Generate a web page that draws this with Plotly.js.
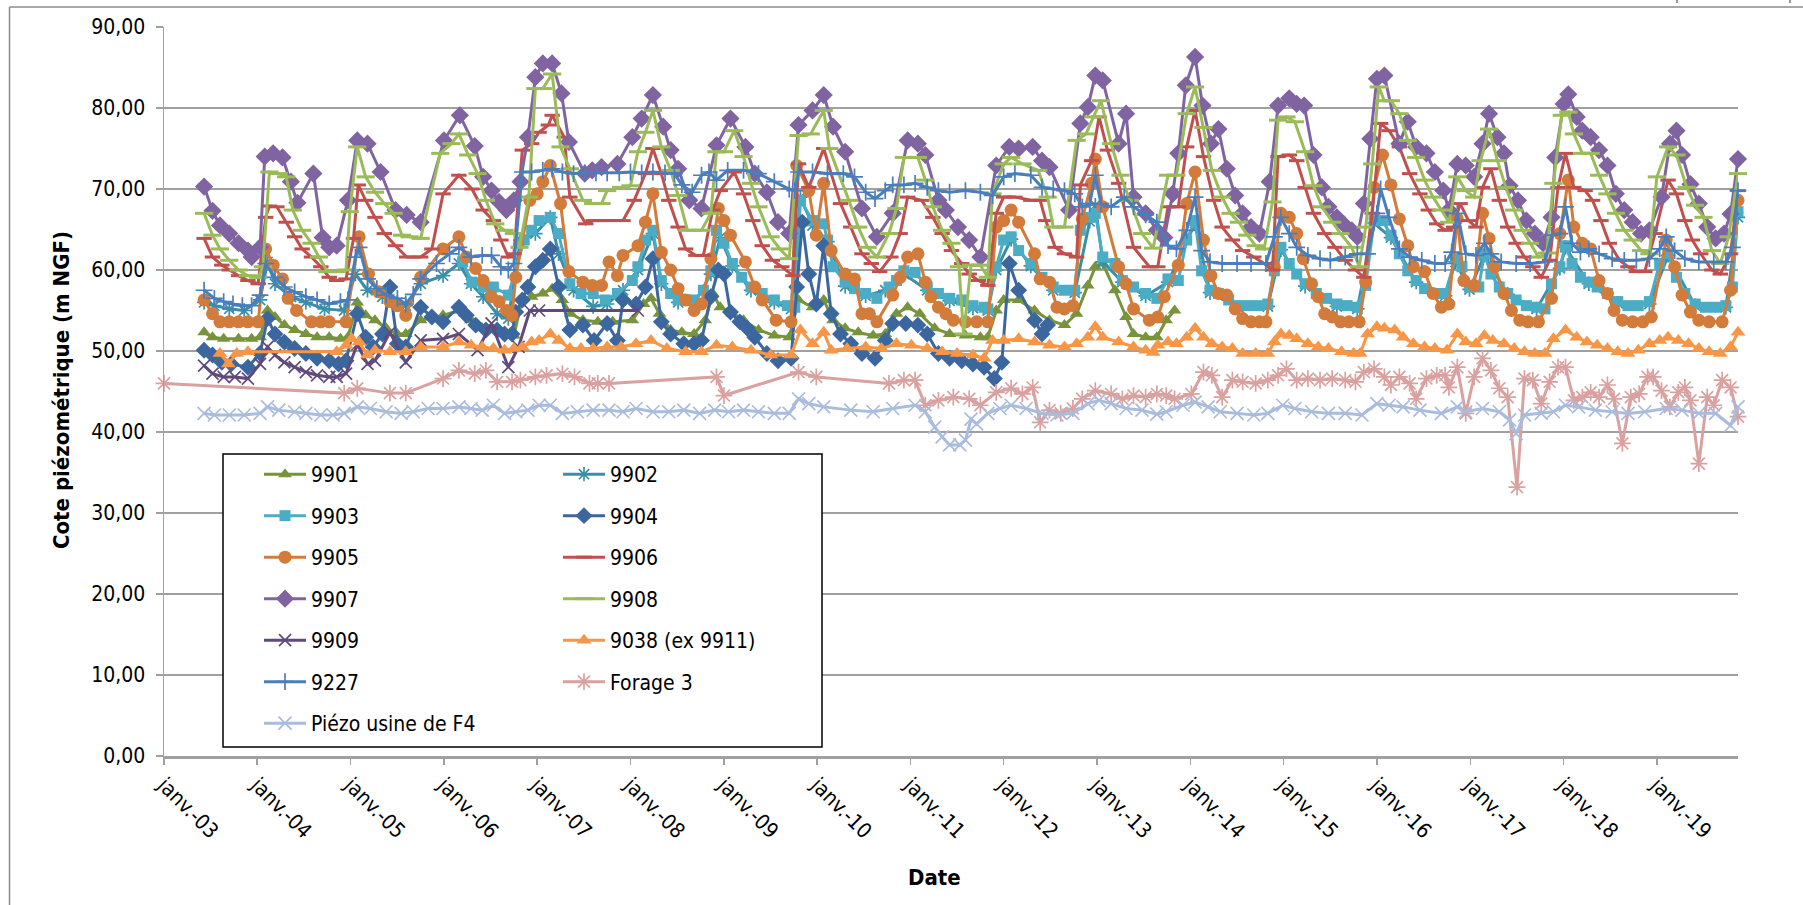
<!DOCTYPE html>
<html><head><meta charset="utf-8">
<script src="https://cdn.plot.ly/plotly-3.0.1.min.js"></script>
<style>html,body{margin:0;padding:0;background:#fff;overflow:hidden}</style>
</head><body>
<div id="chart" style="width:1803px;height:905px"></div>
<script>
// ---------- DATA (decimal year, value in m NGF) ----------
const tickYears = [2003,2004,2005,2006,2007,2008,2009,2010,2011,2012,2013,2014,2015,2016,2017,2018,2019];
const tickLabels = ['janv.-03','janv.-04','janv.-05','janv.-06','janv.-07','janv.-08','janv.-09','janv.-10','janv.-11','janv.-12','janv.-13','janv.-14','janv.-15','janv.-16','janv.-17','janv.-18','janv.-19'];
const yTicks = [0,10,20,30,40,50,60,70,80,90];

const s9901 = [[2003.43,52.3],[2003.52,51.7],[2003.64,51.5],[2003.80,51.5],[2003.94,51.5],[2004.03,51.7],[2004.11,55.0],[2004.19,54.2],[2004.29,53.2],[2004.40,52.6],[2004.52,52.1],[2004.64,51.7],[2004.77,51.7],[2004.89,51.5],[2004.97,51.7],[2005.07,56.0],[2005.16,54.4],[2005.26,53.8],[2005.38,52.8],[2005.50,52.1],[2005.59,52.1],[2005.75,53.8],[2005.99,54.4],[2006.16,55.0],[2006.29,53.8],[2006.41,52.8],[2006.53,52.6],[2006.65,52.1],[2006.75,51.9],[2006.84,56.5],[2006.94,56.7],[2007.06,57.1],[2007.16,57.7],[2007.27,56.3],[2007.36,54.6],[2007.49,53.8],[2007.65,53.6],[2007.81,53.6],[2008.02,53.8],[2008.14,55.8],[2008.22,56.5],[2008.31,54.6],[2008.43,52.6],[2008.55,52.3],[2008.68,52.1],[2008.80,53.8],[2008.88,57.1],[2008.96,55.4],[2009.09,54.6],[2009.21,53.8],[2009.37,52.6],[2009.54,51.9],[2009.70,51.7],[2009.80,56.3],[2009.95,55.4],[2010.07,56.3],[2010.17,53.8],[2010.30,52.8],[2010.44,52.3],[2010.60,51.9],[2010.73,52.1],[2010.85,54.6],[2010.97,55.4],[2011.10,54.6],[2011.26,52.8],[2011.42,52.1],[2011.59,51.9],[2011.75,51.7],[2011.83,51.7],[2011.92,55.0],[2012.00,56.3],[2012.16,56.3],[2012.33,55.0],[2012.49,53.8],[2012.65,53.2],[2012.78,54.6],[2012.90,58.1],[2012.98,60.4],[2013.06,60.8],[2013.19,57.5],[2013.31,54.2],[2013.39,52.1],[2013.52,51.7],[2013.64,51.7],[2013.74,53.8],[2013.83,55.0]];

const s9902 = [[2003.43,56.0],[2003.54,55.6],[2003.70,55.2],[2003.86,55.0],[2004.03,56.3],[2004.11,61.0],[2004.19,58.3],[2004.36,56.7],[2004.52,56.0],[2004.72,55.2],[2004.93,55.0],[2005.05,59.5],[2005.18,57.5],[2005.34,56.7],[2005.50,56.0],[2005.59,55.6],[2005.75,58.3],[2005.99,59.3],[2006.16,60.8],[2006.29,58.3],[2006.42,56.7],[2006.57,54.6],[2006.69,54.0],[2006.82,63.7],[2006.98,64.5],[2007.14,66.5],[2007.23,62.0],[2007.39,57.5],[2007.60,55.5],[2007.75,55.8],[2007.92,57.5],[2008.08,60.0],[2008.24,64.5],[2008.33,58.3],[2008.51,56.0],[2008.68,55.8],[2008.86,59.5],[2008.96,64.0],[2009.09,60.5],[2009.29,57.5],[2009.54,56.0],[2009.72,55.2],[2009.82,69.0],[2009.95,65.5],[2010.11,63.5],[2010.30,58.0],[2010.52,56.8],[2010.73,57.5],[2010.93,59.5],[2011.18,57.5],[2011.42,56.2],[2011.67,55.3],[2011.83,55.0],[2011.92,60.0],[2012.08,63.8],[2012.29,60.5],[2012.53,57.5],[2012.76,57.2],[2012.92,66.0],[2012.98,68.0],[2013.06,61.0],[2013.27,58.5],[2013.52,56.8],[2013.76,58.5],[2014.05,65.8],[2014.21,57.2],[2014.52,55.3],[2014.83,55.5],[2014.97,62.5],[2015.23,58.0],[2015.57,55.5],[2015.79,55.2],[2015.97,65.8],[2016.15,64.0],[2016.42,58.5],[2016.73,56.8],[2016.84,61.0],[2016.99,57.6],[2017.15,61.8],[2017.40,57.0],[2017.71,55.2],[2017.96,60.2],[2018.02,62.8],[2018.27,58.3],[2018.58,55.9],[2018.92,55.8],[2019.12,61.8],[2019.41,55.6],[2019.74,55.4],[2019.87,66.5]];

const s9903 = [[2006.20,61.0],[2006.30,58.5],[2006.42,57.9],[2006.53,57.9],[2006.69,56.9],[2006.86,63.7],[2006.94,64.9],[2007.02,66.1],[2007.14,66.5],[2007.23,64.5],[2007.35,58.3],[2007.47,57.1],[2007.60,57.1],[2007.73,56.3],[2007.86,57.1],[2008.02,58.7],[2008.08,60.4],[2008.16,63.7],[2008.24,64.9],[2008.33,58.7],[2008.43,57.1],[2008.51,56.3],[2008.59,56.3],[2008.68,56.3],[2008.78,57.5],[2008.86,59.9],[2008.92,64.9],[2009.00,63.3],[2009.09,60.8],[2009.19,59.1],[2009.29,57.9],[2009.41,57.1],[2009.54,56.3],[2009.68,55.6],[2009.76,55.4],[2009.82,68.6],[2009.95,66.1],[2010.07,65.7],[2010.11,63.7],[2010.17,60.4],[2010.30,58.5],[2010.40,57.7],[2010.52,57.1],[2010.64,56.5],[2010.77,57.9],[2010.85,58.7],[2010.93,59.9],[2011.05,59.7],[2011.18,57.9],[2011.30,57.1],[2011.42,56.5],[2011.55,56.3],[2011.67,55.6],[2011.79,55.4],[2011.83,55.2],[2011.92,60.4],[2012.00,63.7],[2012.08,64.1],[2012.16,62.4],[2012.29,60.8],[2012.41,59.1],[2012.53,57.9],[2012.65,57.5],[2012.76,57.5],[2012.82,64.9],[2012.92,66.5],[2012.98,67.0],[2013.06,61.6],[2013.19,60.8],[2013.27,58.7],[2013.39,57.9],[2013.52,57.1],[2013.64,56.5],[2013.76,58.9],[2013.87,58.7],[2013.96,63.7],[2014.05,66.1],[2014.12,59.9],[2014.21,57.5],[2014.30,57.1],[2014.41,56.3],[2014.52,55.6],[2014.63,55.6],[2014.74,55.6],[2014.83,55.8],[2014.90,59.9],[2014.97,62.8],[2015.06,60.8],[2015.14,59.5],[2015.23,58.3],[2015.35,57.1],[2015.46,56.5],[2015.57,55.8],[2015.68,55.6],[2015.79,55.4],[2015.88,58.1],[2015.97,66.1],[2016.06,66.1],[2016.15,64.3],[2016.24,62.0],[2016.33,59.9],[2016.42,58.7],[2016.51,57.7],[2016.62,57.1],[2016.73,57.1],[2016.84,61.4],[2016.91,60.4],[2016.99,57.9],[2017.09,57.9],[2017.15,62.0],[2017.22,59.5],[2017.31,57.9],[2017.40,57.1],[2017.49,56.3],[2017.60,55.6],[2017.71,55.4],[2017.80,55.2],[2017.87,58.3],[2017.96,60.4],[2018.02,63.0],[2018.09,60.8],[2018.18,59.1],[2018.27,58.5],[2018.36,57.9],[2018.47,57.1],[2018.58,56.1],[2018.69,55.6],[2018.80,55.6],[2018.92,56.1],[2019.03,60.8],[2019.12,62.0],[2019.21,59.1],[2019.30,57.1],[2019.41,55.8],[2019.52,55.4],[2019.63,55.4],[2019.74,55.6],[2019.81,57.9],[2019.87,67.2]];

const s9904 = [[2003.43,50.1],[2003.52,49.5],[2003.62,48.6],[2003.72,48.4],[2003.90,48.0],[2004.03,49.7],[2004.11,54.0],[2004.19,52.1],[2004.29,51.1],[2004.40,50.3],[2004.52,49.7],[2004.64,49.1],[2004.77,48.8],[2004.87,48.4],[2004.95,48.8],[2005.07,54.6],[2005.16,51.7],[2005.24,50.5],[2005.34,52.1],[2005.42,57.9],[2005.50,50.9],[2005.59,50.5],[2005.75,55.4],[2005.87,54.2],[2005.99,53.6],[2006.16,55.4],[2006.24,54.4],[2006.34,53.2],[2006.45,52.6],[2006.57,52.6],[2006.65,52.1],[2006.73,52.1],[2006.77,54.8],[2006.84,56.3],[2006.90,57.9],[2006.98,60.4],[2007.06,61.2],[2007.14,62.6],[2007.23,57.9],[2007.35,52.6],[2007.49,53.2],[2007.61,51.3],[2007.75,53.4],[2007.86,51.3],[2007.92,56.3],[2008.06,55.8],[2008.16,57.9],[2008.24,61.4],[2008.33,53.6],[2008.43,52.1],[2008.57,50.9],[2008.68,50.9],[2008.76,51.3],[2008.86,56.7],[2008.94,60.0],[2009.00,59.5],[2009.07,54.8],[2009.17,53.6],[2009.25,52.8],[2009.33,51.7],[2009.46,49.7],[2009.58,48.8],[2009.72,49.1],[2009.78,57.9],[2009.84,65.9],[2009.91,59.5],[2009.99,55.8],[2010.07,63.0],[2010.15,54.6],[2010.25,52.1],[2010.36,50.9],[2010.48,49.7],[2010.62,49.1],[2010.73,51.3],[2010.81,53.4],[2010.95,53.4],[2011.08,53.2],[2011.18,52.1],[2011.30,49.7],[2011.42,49.1],[2011.55,48.8],[2011.67,48.4],[2011.79,48.0],[2011.90,46.6],[2011.98,48.6],[2012.06,60.8],[2012.16,57.5],[2012.33,53.8],[2012.41,52.1],[2012.47,53.2]];

const s9905 = [[2003.43,56.3],[2003.52,54.6],[2003.60,53.6],[2003.70,53.6],[2003.80,53.6],[2003.90,53.6],[2004.01,53.6],[2004.09,62.6],[2004.17,60.6],[2004.27,58.9],[2004.33,56.5],[2004.42,55.0],[2004.58,53.6],[2004.68,53.6],[2004.77,53.6],[2004.95,53.6],[2005.09,64.1],[2005.19,59.5],[2005.30,57.3],[2005.42,56.1],[2005.50,55.6],[2005.59,54.4],[2005.75,59.1],[2005.99,62.6],[2006.16,64.1],[2006.24,61.6],[2006.34,60.2],[2006.42,58.7],[2006.51,56.7],[2006.59,56.1],[2006.67,55.0],[2006.73,54.4],[2006.77,59.1],[2006.92,68.6],[2007.00,69.4],[2007.06,70.9],[2007.14,72.9],[2007.25,68.2],[2007.34,59.8],[2007.49,58.5],[2007.59,58.1],[2007.69,58.1],[2007.77,61.0],[2007.86,59.3],[2007.92,61.8],[2008.08,63.0],[2008.16,65.9],[2008.24,69.4],[2008.33,62.2],[2008.43,60.0],[2008.51,57.7],[2008.59,56.3],[2008.68,55.0],[2008.76,55.8],[2008.86,61.4],[2008.94,67.6],[2009.00,66.1],[2009.07,64.3],[2009.23,61.0],[2009.33,57.9],[2009.41,56.3],[2009.56,53.8],[2009.72,53.6],[2009.78,72.9],[2009.91,69.8],[2009.99,64.3],[2010.07,70.7],[2010.15,62.4],[2010.30,59.5],[2010.40,58.9],[2010.48,54.6],[2010.56,54.6],[2010.64,53.6],[2010.81,56.9],[2010.89,59.1],[2010.97,61.6],[2011.08,62.0],[2011.16,58.5],[2011.22,56.7],[2011.30,55.4],[2011.38,54.6],[2011.46,53.8],[2011.59,53.6],[2011.71,53.6],[2011.83,53.6],[2011.92,65.3],[2012.00,66.1],[2012.08,67.4],[2012.16,65.9],[2012.33,62.0],[2012.39,58.9],[2012.49,58.5],[2012.57,55.4],[2012.65,55.2],[2012.74,55.6],[2012.84,66.3],[2012.94,70.7],[2012.98,73.7],[2013.06,67.8],[2013.23,60.4],[2013.31,58.3],[2013.39,55.2],[2013.56,53.8],[2013.65,54.2],[2013.72,56.7],[2013.87,60.6],[2013.96,68.2],[2014.05,72.1],[2014.14,63.7],[2014.22,59.3],[2014.30,57.1],[2014.39,56.9],[2014.48,55.2],[2014.56,54.0],[2014.65,53.6],[2014.74,53.6],[2014.81,53.6],[2014.90,60.4],[2014.97,67.0],[2015.06,66.5],[2015.14,64.5],[2015.21,61.4],[2015.30,58.3],[2015.37,56.7],[2015.44,54.6],[2015.52,54.2],[2015.61,53.6],[2015.70,53.6],[2015.81,53.6],[2015.88,58.5],[2015.97,70.2],[2016.06,74.2],[2016.15,70.5],[2016.24,66.3],[2016.33,63.0],[2016.39,60.4],[2016.51,59.8],[2016.60,57.1],[2016.69,55.4],[2016.77,55.8],[2016.86,66.3],[2016.93,58.7],[2017.04,58.1],[2017.13,67.0],[2017.20,63.9],[2017.26,60.4],[2017.36,57.1],[2017.44,55.0],[2017.53,53.8],[2017.62,53.6],[2017.73,53.6],[2017.87,56.5],[2017.96,64.5],[2018.05,71.1],[2018.11,65.3],[2018.20,63.3],[2018.29,62.6],[2018.38,58.7],[2018.47,57.1],[2018.54,55.0],[2018.63,53.8],[2018.74,53.6],[2018.85,53.6],[2018.94,54.2],[2019.10,63.7],[2019.19,60.4],[2019.27,56.9],[2019.36,54.8],[2019.45,53.8],[2019.56,53.6],[2019.70,53.6],[2019.79,57.5],[2019.87,68.6]];

const s9906 = [[2003.43,63.9],[2003.52,61.6],[2003.62,60.6],[2003.70,60.0],[2003.80,59.3],[2003.90,58.7],[2004.01,58.3],[2004.09,66.5],[2004.13,67.9],[2004.21,67.8],[2004.31,65.9],[2004.40,64.1],[2004.48,62.6],[2004.58,61.6],[2004.68,60.4],[2004.77,59.1],[2004.85,58.7],[2004.95,58.9],[2005.03,63.9],[2005.08,70.5],[2005.16,68.6],[2005.26,66.5],[2005.36,64.5],[2005.48,63.0],[2005.60,61.6],[2005.75,61.6],[2005.87,62.6],[2005.99,69.4],[2006.16,71.7],[2006.30,70.0],[2006.42,67.4],[2006.53,66.1],[2006.61,63.7],[2006.69,61.6],[2006.75,62.0],[2006.84,74.8],[2006.94,75.6],[2007.02,77.0],[2007.12,77.9],[2007.16,79.1],[2007.29,76.4],[2007.35,69.0],[2007.52,65.7],[2007.60,66.1],[2007.69,66.1],[2007.77,66.1],[2007.92,66.1],[2008.04,68.6],[2008.16,71.9],[2008.24,75.0],[2008.33,71.9],[2008.41,68.6],[2008.51,65.3],[2008.59,62.6],[2008.70,61.8],[2008.78,61.8],[2008.88,67.4],[2008.96,69.8],[2009.11,72.1],[2009.21,69.4],[2009.31,66.1],[2009.41,63.0],[2009.52,61.2],[2009.62,60.4],[2009.74,59.3],[2009.80,73.1],[2009.91,70.2],[2010.07,75.0],[2010.15,71.9],[2010.25,68.2],[2010.36,65.3],[2010.48,62.0],[2010.58,60.8],[2010.67,59.8],[2010.79,61.6],[2010.89,64.5],[2010.97,69.0],[2011.12,68.6],[2011.24,66.5],[2011.34,64.5],[2011.44,62.4],[2011.55,60.8],[2011.63,59.5],[2011.73,58.7],[2011.83,58.1],[2011.92,67.0],[2012.00,69.0],[2012.12,69.0],[2012.29,68.6],[2012.39,68.6],[2012.45,66.1],[2012.55,62.8],[2012.65,62.0],[2012.78,61.6],[2012.82,70.5],[2012.94,73.5],[2013.02,78.9],[2013.11,74.8],[2013.23,70.7],[2013.39,62.8],[2013.56,60.4],[2013.65,60.4],[2013.76,67.8],[2013.87,67.8],[2013.96,75.2],[2014.05,79.7],[2014.14,74.0],[2014.25,68.6],[2014.34,65.3],[2014.45,63.7],[2014.56,62.4],[2014.68,61.6],[2014.79,60.8],[2014.88,60.0],[2014.94,74.0],[2015.06,74.2],[2015.14,73.5],[2015.23,70.2],[2015.32,67.0],[2015.44,64.5],[2015.55,62.8],[2015.66,61.2],[2015.77,60.0],[2015.86,59.1],[2015.95,67.0],[2016.04,78.1],[2016.13,77.2],[2016.24,75.2],[2016.35,71.9],[2016.46,69.4],[2016.55,67.4],[2016.64,65.7],[2016.73,64.9],[2016.82,65.3],[2016.89,68.2],[2016.98,66.1],[2017.06,65.3],[2017.13,70.2],[2017.22,72.5],[2017.31,68.6],[2017.40,65.3],[2017.49,63.3],[2017.58,61.6],[2017.67,60.4],[2017.76,59.1],[2017.85,61.2],[2017.94,70.2],[2018.02,74.4],[2018.11,70.2],[2018.23,69.8],[2018.31,68.6],[2018.40,66.1],[2018.49,63.3],[2018.60,61.2],[2018.69,60.4],[2018.78,59.8],[2018.87,59.8],[2018.98,64.5],[2019.12,71.1],[2019.21,69.4],[2019.30,66.1],[2019.38,63.7],[2019.47,62.0],[2019.59,60.0],[2019.68,59.5],[2019.79,62.0],[2019.87,69.8]];

const s9907 = [[2003.43,70.3],[2003.52,67.3],[2003.60,65.5],[2003.70,64.5],[2003.80,63.3],[2003.90,62.4],[2003.94,61.6],[2004.03,62.8],[2004.08,74.0],[2004.17,74.4],[2004.27,73.9],[2004.36,70.9],[2004.43,68.3],[2004.60,71.9],[2004.70,64.0],[2004.77,62.8],[2004.85,63.0],[2004.97,68.6],[2005.07,76.0],[2005.18,75.6],[2005.32,72.1],[2005.48,67.4],[2005.60,66.8],[2005.75,65.9],[2006.00,76.0],[2006.17,79.1],[2006.33,75.3],[2006.42,71.5],[2006.51,69.8],[2006.59,68.4],[2006.67,67.4],[2006.75,68.6],[2006.82,70.9],[2006.90,76.4],[2006.98,83.8],[2007.06,85.5],[2007.16,85.5],[2007.26,81.8],[2007.34,75.8],[2007.51,71.9],[2007.59,72.3],[2007.69,72.7],[2007.86,73.1],[2008.02,76.4],[2008.12,78.7],[2008.24,81.6],[2008.35,77.7],[2008.43,74.8],[2008.51,72.5],[2008.63,68.6],[2008.76,67.6],[2008.92,75.4],[2009.07,78.7],[2009.23,75.2],[2009.33,71.9],[2009.46,69.6],[2009.58,65.9],[2009.70,64.5],[2009.80,77.9],[2009.95,79.7],[2010.07,81.6],[2010.17,77.7],[2010.30,74.6],[2010.48,67.6],[2010.64,64.1],[2010.81,67.0],[2010.97,76.0],[2011.08,75.6],[2011.16,74.2],[2011.30,68.6],[2011.38,67.4],[2011.51,65.3],[2011.63,63.7],[2011.75,61.6],[2011.92,72.9],[2012.06,75.2],[2012.16,75.0],[2012.31,75.2],[2012.41,73.5],[2012.49,72.7],[2012.70,67.4],[2012.82,78.1],[2012.90,80.1],[2012.98,84.0],[2013.06,83.4],[2013.23,75.6],[2013.31,79.3],[2013.39,69.0],[2013.52,67.0],[2013.64,64.9],[2013.72,64.0],[2013.81,69.4],[2013.87,74.4],[2013.95,82.8],[2014.05,86.3],[2014.13,80.3],[2014.22,75.6],[2014.30,77.4],[2014.39,72.5],[2014.48,69.2],[2014.56,67.0],[2014.65,65.3],[2014.74,64.5],[2014.85,70.9],[2014.94,80.3],[2015.06,81.2],[2015.14,80.5],[2015.22,80.3],[2015.32,74.2],[2015.41,70.2],[2015.48,67.8],[2015.57,66.5],[2015.64,65.7],[2015.73,64.9],[2015.79,64.1],[2015.86,68.2],[2015.93,76.2],[2016.00,83.6],[2016.08,84.0],[2016.24,75.6],[2016.33,78.3],[2016.42,75.2],[2016.53,74.4],[2016.62,72.1],[2016.71,69.8],[2016.77,67.4],[2016.86,73.1],[2016.95,72.9],[2017.04,71.5],[2017.13,75.6],[2017.20,79.3],[2017.29,76.4],[2017.36,74.4],[2017.42,70.4],[2017.51,68.6],[2017.60,66.1],[2017.69,64.5],[2017.78,63.3],[2017.87,66.5],[2017.91,73.9],[2018.00,80.5],[2018.05,81.7],[2018.14,78.9],[2018.20,77.2],[2018.29,76.4],[2018.38,74.8],[2018.47,72.9],[2018.56,69.4],[2018.65,67.4],[2018.74,65.9],[2018.83,64.5],[2018.92,64.9],[2019.05,69.0],[2019.14,75.6],[2019.21,77.2],[2019.27,74.2],[2019.36,70.6],[2019.45,68.2],[2019.54,65.3],[2019.63,63.9],[2019.72,64.5],[2019.79,66.9],[2019.87,73.7]];

const s9908 = [[2003.43,67.0],[2003.52,64.3],[2003.60,62.6],[2003.70,61.2],[2003.80,60.0],[2003.90,59.3],[2004.01,59.1],[2004.06,60.4],[2004.13,72.1],[2004.23,71.9],[2004.31,71.5],[2004.38,67.4],[2004.48,64.9],[2004.58,63.3],[2004.66,61.6],[2004.75,59.8],[2004.85,59.8],[2004.95,60.0],[2004.99,67.2],[2005.07,75.2],[2005.16,71.5],[2005.26,69.6],[2005.36,68.2],[2005.46,67.0],[2005.55,64.3],[2005.63,64.1],[2005.75,63.9],[2005.96,74.4],[2006.08,75.6],[2006.16,76.8],[2006.26,74.2],[2006.36,71.9],[2006.45,68.6],[2006.55,65.7],[2006.65,64.9],[2006.75,64.5],[2006.81,62.8],[2006.91,69.0],[2006.98,82.4],[2007.06,82.4],[2007.16,84.2],[2007.25,75.2],[2007.35,72.5],[2007.49,68.6],[2007.60,68.2],[2007.69,68.2],[2007.75,69.8],[2007.90,70.2],[2008.00,70.4],[2008.08,74.6],[2008.16,77.0],[2008.24,79.7],[2008.33,75.2],[2008.43,72.3],[2008.51,69.2],[2008.61,64.9],[2008.76,64.9],[2008.86,67.0],[2008.92,74.6],[2009.00,74.6],[2009.11,77.2],[2009.21,74.0],[2009.29,70.7],[2009.37,67.8],[2009.50,64.1],[2009.60,62.6],[2009.70,61.4],[2009.80,76.6],[2009.93,76.8],[2010.07,79.7],[2010.13,75.0],[2010.23,71.9],[2010.34,68.6],[2010.44,65.3],[2010.54,62.8],[2010.64,61.6],[2010.77,64.5],[2010.85,67.6],[2010.93,73.9],[2011.08,73.9],[2011.16,71.1],[2011.24,67.8],[2011.34,64.9],[2011.44,63.3],[2011.52,60.4],[2011.57,52.1],[2011.65,60.6],[2011.75,60.6],[2011.83,59.1],[2011.88,69.4],[2012.00,73.1],[2012.08,73.9],[2012.20,73.1],[2012.37,72.3],[2012.47,69.0],[2012.53,65.3],[2012.65,65.3],[2012.78,76.0],[2012.88,76.8],[2012.96,78.9],[2013.04,80.9],[2013.15,75.6],[2013.25,71.7],[2013.35,68.6],[2013.48,64.5],[2013.60,62.7],[2013.76,71.7],[2013.85,71.7],[2013.96,79.3],[2014.05,82.6],[2014.14,77.6],[2014.23,72.3],[2014.34,69.0],[2014.43,67.0],[2014.52,65.9],[2014.61,64.3],[2014.70,63.0],[2014.79,62.6],[2014.88,68.4],[2014.94,78.5],[2015.03,78.9],[2015.12,78.3],[2015.23,74.6],[2015.32,70.4],[2015.41,67.8],[2015.52,65.9],[2015.61,64.5],[2015.73,62.8],[2015.81,60.4],[2015.88,65.3],[2015.95,73.1],[2016.02,82.6],[2016.08,80.9],[2016.15,80.9],[2016.24,79.3],[2016.33,76.0],[2016.42,73.9],[2016.51,71.1],[2016.60,69.0],[2016.69,67.4],[2016.77,65.9],[2016.86,71.5],[2016.95,69.8],[2017.04,69.0],[2017.11,73.5],[2017.20,77.4],[2017.29,73.5],[2017.38,70.2],[2017.47,67.4],[2017.56,64.9],[2017.64,63.3],[2017.73,61.6],[2017.82,62.1],[2017.89,70.7],[2017.98,79.1],[2018.05,79.5],[2018.11,76.8],[2018.20,74.4],[2018.29,74.4],[2018.38,71.7],[2018.47,69.4],[2018.56,67.0],[2018.65,64.9],[2018.74,63.7],[2018.83,62.4],[2018.92,62.0],[2019.00,71.5],[2019.12,75.2],[2019.21,74.2],[2019.32,70.2],[2019.41,68.0],[2019.50,66.5],[2019.59,62.4],[2019.68,60.8],[2019.77,64.1],[2019.87,71.9]];

const s9909 = [[2003.43,48.2],[2003.52,47.2],[2003.64,46.8],[2003.76,46.8],[2003.90,46.6],[2004.03,48.4],[2004.11,50.5],[2004.19,49.5],[2004.29,48.6],[2004.40,48.0],[2004.52,47.4],[2004.64,47.0],[2004.77,46.8],[2004.85,46.8],[2004.95,47.2],[2005.07,50.8],[2005.18,48.4],[2005.26,48.8],[2005.42,52.3],[2005.59,48.6],[2005.75,51.3],[2005.99,51.5],[2006.16,52.1],[2006.36,50.1],[2006.51,53.4],[2006.69,48.0],[2006.80,50.5],[2006.92,55.0],[2007.02,55.0],[2008.08,55.0]];

const s9038 = [[2003.60,49.7],[2003.69,48.4],[2003.78,49.7],[2003.90,49.9],[2004.85,49.9],[2004.95,50.7],[2005.01,51.5],[2005.09,51.1],[2005.18,49.5],[2005.26,50.1],[2005.42,49.9],[2005.59,49.9],[2005.75,50.5],[2005.99,50.5],[2006.16,51.1],[2006.29,50.7],[2006.41,50.5],[2006.53,50.3],[2006.65,50.1],[2006.75,50.3],[2006.84,50.5],[2006.94,51.1],[2007.02,51.3],[2007.14,52.1],[2007.23,51.3],[2007.35,50.3],[2007.47,50.3],[2007.60,50.3],[2007.75,50.5],[2007.90,50.5],[2008.06,50.9],[2008.22,51.3],[2008.39,50.3],[2008.59,49.9],[2008.76,49.9],[2008.92,50.7],[2009.09,50.5],[2009.29,50.1],[2009.50,49.5],[2009.72,49.5],[2009.82,52.6],[2009.95,50.9],[2010.07,52.3],[2010.15,50.1],[2010.32,50.3],[2010.52,50.5],[2010.69,50.3],[2010.85,50.9],[2011.01,50.7],[2011.18,50.3],[2011.34,49.9],[2011.50,49.7],[2011.67,49.5],[2011.79,49.1],[2011.88,51.3],[2012.00,51.3],[2012.16,51.5],[2012.33,51.1],[2012.49,50.7],[2012.65,50.5],[2012.78,50.9],[2012.90,51.7],[2012.98,53.0],[2013.06,51.7],[2013.23,51.1],[2013.39,50.5],[2013.52,50.1],[2013.60,49.8],[2013.65,50.7],[2013.76,51.1],[2013.85,50.9],[2013.96,51.7],[2014.05,52.8],[2014.14,51.7],[2014.23,50.9],[2014.34,50.5],[2014.45,50.3],[2014.56,49.7],[2014.70,49.7],[2014.83,49.7],[2014.90,51.1],[2014.97,52.1],[2015.06,51.9],[2015.14,51.5],[2015.26,50.9],[2015.37,50.5],[2015.48,50.3],[2015.62,49.9],[2015.75,49.7],[2015.82,49.7],[2015.90,52.1],[2016.00,53.0],[2016.08,52.8],[2016.19,52.6],[2016.28,51.7],[2016.39,50.9],[2016.51,50.5],[2016.62,50.3],[2016.75,50.1],[2016.86,52.1],[2016.95,51.1],[2017.06,50.9],[2017.15,51.9],[2017.24,51.3],[2017.36,50.9],[2017.47,50.3],[2017.58,49.9],[2017.69,49.7],[2017.80,49.7],[2017.89,51.5],[2018.02,52.6],[2018.14,51.7],[2018.25,51.1],[2018.36,50.7],[2018.47,50.3],[2018.58,49.9],[2018.69,49.7],[2018.80,50.1],[2018.92,50.9],[2019.03,51.3],[2019.12,51.7],[2019.23,51.3],[2019.34,50.9],[2019.45,50.3],[2019.56,49.9],[2019.68,49.7],[2019.79,50.5],[2019.87,52.3]];

const s9227 = [[2003.43,57.5],[2003.54,56.5],[2003.64,56.1],[2003.74,55.8],[2003.84,55.6],[2003.94,55.6],[2004.03,56.9],[2004.09,60.8],[2004.19,59.1],[2004.29,57.9],[2004.40,57.3],[2004.52,56.7],[2004.64,56.3],[2004.77,55.8],[2004.89,56.1],[2004.97,56.3],[2005.05,61.6],[2005.09,62.8],[2005.18,58.9],[2005.28,57.7],[2005.38,56.9],[2005.50,56.5],[2005.59,55.8],[2005.67,57.0],[2005.75,58.9],[2005.92,60.8],[2006.06,62.0],[2006.16,62.8],[2006.29,61.6],[2006.41,61.8],[2006.51,61.8],[2006.61,60.4],[2006.69,60.0],[2006.75,60.8],[2006.84,72.1],[2006.94,72.1],[2007.06,72.3],[2007.16,72.5],[2007.27,72.1],[2007.39,71.9],[2007.51,72.0],[2007.63,72.0],[2007.75,72.0],[2007.88,72.0],[2008.00,72.1],[2008.12,72.0],[2008.24,72.1],[2008.37,72.0],[2008.47,71.9],[2008.55,70.5],[2008.66,69.6],[2008.76,71.7],[2008.84,72.1],[2008.92,71.1],[2009.04,72.3],[2009.21,72.3],[2009.37,71.9],[2009.54,70.9],[2009.70,70.0],[2009.76,69.8],[2009.80,72.1],[2009.95,72.1],[2010.11,71.9],[2010.28,71.9],[2010.40,71.5],[2010.52,69.6],[2010.62,68.8],[2010.73,69.8],[2010.81,70.5],[2010.93,70.5],[2011.05,70.7],[2011.18,70.2],[2011.30,69.8],[2011.42,69.6],[2011.59,69.8],[2011.75,69.6],[2011.88,69.2],[2012.00,71.5],[2012.12,71.9],[2012.29,71.7],[2012.41,70.2],[2012.53,70.0],[2012.65,69.8],[2012.76,69.4],[2012.84,67.8],[2012.92,68.2],[2012.98,71.7],[2013.04,68.2],[2013.15,67.8],[2013.29,69.0],[2013.39,67.8],[2013.52,66.8],[2013.64,65.9],[2013.76,63.0],[2013.85,62.6],[2013.96,64.9],[2014.05,69.0],[2014.12,62.4],[2014.21,61.0],[2014.34,60.8],[2014.50,60.8],[2014.65,60.8],[2014.81,60.8],[2014.90,64.1],[2014.97,66.5],[2015.06,64.5],[2015.14,62.8],[2015.26,61.8],[2015.39,61.4],[2015.50,61.2],[2015.66,61.6],[2015.79,62.0],[2015.90,62.0],[2016.00,67.0],[2016.04,70.0],[2016.13,66.5],[2016.24,62.6],[2016.35,61.6],[2016.48,61.2],[2016.62,60.8],[2016.73,60.8],[2016.80,62.2],[2016.86,67.0],[2016.95,62.0],[2017.06,61.8],[2017.15,63.3],[2017.22,62.0],[2017.33,61.0],[2017.49,60.8],[2017.64,60.8],[2017.80,61.0],[2017.87,64.3],[2017.96,64.5],[2018.02,67.8],[2018.09,63.3],[2018.18,62.2],[2018.27,62.6],[2018.38,62.0],[2018.52,61.4],[2018.65,61.2],[2018.78,61.2],[2018.92,61.4],[2019.03,62.6],[2019.10,64.1],[2019.19,62.4],[2019.30,61.4],[2019.45,61.0],[2019.61,61.0],[2019.74,61.0],[2019.81,62.8],[2019.87,69.8]];

const sForage3 = [[2003.00,46.0],[2004.93,44.8],[2005.07,45.4],[2005.42,44.8],[2005.59,44.8],[2005.99,46.6],[2006.16,47.6],[2006.33,47.2],[2006.45,47.6],[2006.57,46.2],[2006.73,46.2],[2006.82,46.4],[2006.98,46.8],[2007.10,47.0],[2007.27,47.2],[2007.40,46.8],[2007.56,46.0],[2007.65,46.0],[2007.77,46.0],[2008.92,46.8],[2009.00,44.5],[2009.80,47.4],[2009.99,46.8],[2010.77,46.0],[2010.93,46.4],[2011.05,46.4],[2011.16,43.3],[2011.30,43.9],[2011.46,44.3],[2011.63,44.1],[2011.75,43.3],[2011.92,44.9],[2012.08,45.4],[2012.20,44.7],[2012.31,45.5],[2012.39,41.2],[2012.49,42.7],[2012.61,42.3],[2012.74,42.9],[2012.84,44.1],[2012.98,45.1],[2013.15,44.7],[2013.27,44.1],[2013.39,44.5],[2013.52,44.3],[2013.64,44.7],[2013.74,44.5],[2013.83,44.1],[2014.01,44.7],[2014.14,47.4],[2014.23,47.0],[2014.34,44.3],[2014.45,46.4],[2014.56,46.2],[2014.70,46.0],[2014.83,46.4],[2014.94,47.0],[2015.03,47.8],[2015.14,46.4],[2015.26,46.6],[2015.39,46.4],[2015.52,46.6],[2015.66,46.4],[2015.77,46.2],[2015.86,47.4],[2015.97,47.8],[2016.08,46.8],[2016.15,45.8],[2016.24,46.8],[2016.35,46.0],[2016.42,44.1],[2016.53,46.6],[2016.64,47.0],[2016.73,47.0],[2016.77,45.5],[2016.86,48.0],[2016.95,42.3],[2017.04,46.8],[2017.13,49.1],[2017.22,47.6],[2017.31,45.4],[2017.40,44.3],[2017.50,33.2],[2017.58,46.6],[2017.67,46.4],[2017.76,43.5],[2017.85,46.2],[2017.94,48.0],[2018.02,48.0],[2018.11,43.9],[2018.20,44.3],[2018.29,44.9],[2018.38,44.3],[2018.47,45.8],[2018.54,44.1],[2018.63,38.6],[2018.72,44.3],[2018.81,44.7],[2018.90,46.8],[2018.96,46.8],[2019.05,45.1],[2019.14,43.1],[2019.23,44.9],[2019.30,45.5],[2019.36,43.9],[2019.45,36.1],[2019.54,44.3],[2019.61,43.3],[2019.70,46.4],[2019.79,45.5],[2019.87,41.9]];

const sPiezoF4 = [[2003.43,42.3],[2003.54,42.1],[2003.70,42.1],[2003.86,42.1],[2004.03,42.3],[2004.11,43.1],[2004.23,42.7],[2004.40,42.5],[2004.52,42.3],[2004.68,42.1],[2004.81,42.1],[2004.93,42.3],[2005.07,43.1],[2005.21,42.9],[2005.38,42.5],[2005.54,42.3],[2005.67,42.5],[2005.83,42.9],[2005.99,42.9],[2006.16,43.1],[2006.29,42.9],[2006.41,42.7],[2006.53,43.3],[2006.65,42.3],[2006.77,42.5],[2006.90,42.7],[2007.02,43.3],[2007.14,43.3],[2007.27,42.3],[2007.43,42.5],[2007.60,42.7],[2007.77,42.7],[2007.92,42.5],[2008.06,42.9],[2008.24,42.5],[2008.41,42.5],[2008.57,42.7],[2008.74,42.3],[2008.90,42.7],[2009.05,42.5],[2009.21,42.7],[2009.37,42.5],[2009.54,42.3],[2009.70,42.3],[2009.80,44.1],[2009.91,43.5],[2010.07,43.1],[2010.36,42.7],[2010.60,42.5],[2010.81,42.9],[2011.05,43.3],[2011.16,42.5],[2011.26,40.6],[2011.34,39.4],[2011.42,38.4],[2011.53,38.4],[2011.59,39.0],[2011.65,41.6],[2011.71,41.0],[2011.83,42.3],[2011.96,42.9],[2012.08,43.3],[2012.24,42.9],[2012.41,42.3],[2012.57,42.1],[2012.74,42.3],[2012.90,43.5],[2013.02,43.9],[2013.15,43.5],[2013.31,42.9],[2013.48,42.7],[2013.64,42.2],[2013.74,42.5],[2013.92,43.3],[2014.05,43.7],[2014.19,43.1],[2014.32,42.5],[2014.50,42.3],[2014.68,42.1],[2014.83,42.3],[2014.99,43.3],[2015.12,42.9],[2015.30,42.5],[2015.48,42.3],[2015.66,42.3],[2015.84,42.1],[2016.00,43.5],[2016.13,43.3],[2016.28,43.1],[2016.46,42.7],[2016.69,42.3],[2016.86,43.1],[2016.95,42.5],[2017.13,42.9],[2017.31,42.5],[2017.42,41.5],[2017.49,39.8],[2017.58,42.1],[2017.76,42.3],[2017.89,42.5],[2018.02,43.3],[2018.16,43.1],[2018.34,42.7],[2018.52,42.5],[2018.69,42.3],[2018.87,42.5],[2019.10,42.9],[2019.27,42.7],[2019.45,42.3],[2019.63,42.3],[2019.79,40.8],[2019.87,43.1]];

// ---------- STYLE ----------
const FONT = "'DejaVu Sans Condensed', 'DejaVu Sans', sans-serif";
const series = [
  {name:'9901', data:s9901, color:'#77933C', symbol:'triangle-up', size:12, open:false, legend:'legend'},
  {name:'9902', data:s9902, color:'#3A8FA6', symbol:'asterisk-open', size:12, open:true, legend:'legend2'},
  {name:'9903', data:s9903, color:'#4BACC6', symbol:'square', size:11, open:false, legend:'legend'},
  {name:'9904', data:s9904, color:'#3C679E', symbol:'diamond', size:13, open:false, legend:'legend2'},
  {name:'9905', data:s9905, color:'#D27B3A', symbol:'circle', size:13, open:false, legend:'legend'},
  {name:'9906', data:s9906, color:'#C0504D', symbol:'line-ew-open', size:11, open:true, legend:'legend2'},
  {name:'9907', data:s9907, color:'#8064A2', symbol:'diamond', size:14, open:false, legend:'legend'},
  {name:'9908', data:s9908, color:'#9BBB59', symbol:'line-ew-open', size:13, open:true, legend:'legend2'},
  {name:'9909', data:s9909, color:'#604A7B', symbol:'x-thin-open', size:12, open:true, legend:'legend'},
  {name:'9038 (ex 9911)', data:s9038, color:'#F79646', symbol:'triangle-up', size:13, open:false, legend:'legend2'},
  {name:'9227', data:s9227, color:'#4A7EBB', symbol:'cross-thin-open', size:12, open:true, legend:'legend'},
  {name:'Forage 3', data:sForage3, color:'#D9A19F', symbol:'asterisk-open', size:14, open:true, legend:'legend2'},
  {name:'Piézo usine de F4', data:sPiezoF4, color:'#A9BCDD', symbol:'x-thin-open', size:13, open:true, legend:'legend'}
];

function toDate(y){
  const yr = Math.floor(y + 1e-9);
  const a = Date.UTC(yr,0,1), b = Date.UTC(yr+1,0,1);
  return new Date(a + (y - yr)*(b - a)).toISOString().slice(0,19).replace('T',' ');
}

const traces = series.map((s,i) => ({
  type:'scatter', mode:'lines+markers', name:s.name,
  x: s.data.map(p => toDate(p[0])), y: s.data.map(p => p[1]),
  line:{color:s.color, width:3},
  marker:{symbol:s.symbol, size:s.size, color:s.color,
          line:{color:s.color, width: s.open ? (s.symbol.indexOf('line-ew')===0 ? 3 : 1.7) : 0}},
  legend:s.legend, legendgroup:'g'+i, legendrank:i,
  cliponaxis:false, hoverinfo:'x+y+name'
}));

// plot area in px
const L = 164, R = 1738, T = 27, B = 756;
const px = v => (v - L)/(R - L);
const py = v => (B - v)/(B - T);
const GRID = '#a0a0a0';

const legendCommon = {
  xanchor:'left', yanchor:'top', orientation:'v',
  bgcolor:'rgba(0,0,0,0)', borderwidth:0,
  font:{family:FONT, size:21, color:'#000'},
  itemwidth:42, tracegroupgap:11.2, traceorder:'grouped', itemclick:false
};

const layout = {
  width:1803, height:905,
  margin:{l:L, r:1803-R, t:T, b:905-B, pad:0},
  paper_bgcolor:'#fff', plot_bgcolor:'#fff',
  separators:', ',
  font:{family:FONT, size:21, color:'#000'},
  showlegend:true,
  legend: Object.assign({x:px(259), y:py(454)}, legendCommon),
  legend2: Object.assign({x:px(558), y:py(454)}, legendCommon),
  xaxis:{
    type:'date',
    range:[toDate(2003.0), toDate(2019.87)],
    tickmode:'array', tickvals: tickYears.map(y => y + '-01-01'), ticktext: tickLabels,
    tickangle:45, tickfont:{family:FONT, size:21, color:'#000'},
    ticks:'outside', ticklen:6, tickwidth:1.5, tickcolor:GRID,
    showline:true, linecolor:GRID, linewidth:2.5,
    showgrid:false, zeroline:false, fixedrange:true
  },
  yaxis:{
    range:[0,90], tickmode:'array', tickvals:yTicks, tickformat:'.2f',
    tickfont:{family:FONT, size:21, color:'#000'},
    ticks:'outside', ticklen:7, tickwidth:1.5, tickcolor:GRID,
    showline:true, linecolor:GRID, linewidth:1.5,
    showgrid:true, gridcolor:GRID, gridwidth:1.5,
    zeroline:false, fixedrange:true, ticklabelstandoff:6
  },
  shapes:[
    {type:'rect', xref:'paper', yref:'paper', x0:px(223), x1:px(822), y0:py(747), y1:py(454),
     fillcolor:'#fff', line:{color:'#000', width:1.5}, layer:'above'},
    {type:'line', xref:'paper', yref:'paper', x0:px(9.5), x1:px(9.5), y0:py(7), y1:py(905), line:{color:'#8a8a8a', width:1.5}},
    {type:'line', xref:'paper', yref:'paper', x0:px(9.5), x1:px(1803), y0:py(7), y1:py(7), line:{color:'#8a8a8a', width:1.5}},
    {type:'line', xref:'paper', yref:'paper', x0:px(1677), x1:px(1677), y0:py(0), y1:py(3), line:{color:'#555', width:1.2}},
    {type:'line', xref:'paper', yref:'paper', x0:px(1790), x1:px(1790), y0:py(0), y1:py(3), line:{color:'#555', width:1.2}}
  ],
  annotations:[
    {text:'<b>Date</b>', xref:'paper', yref:'paper', x:px(934), y:py(877), showarrow:false,
     xanchor:'center', yanchor:'middle', font:{family:FONT, size:22, color:'#000'}},
    {text:'<b>Cote piézométrique (m NGF)</b>', xref:'paper', yref:'paper', x:px(62), y:py(390), showarrow:false,
     textangle:-90, xanchor:'center', yanchor:'middle', font:{family:FONT, size:22, color:'#000'}}
  ]
};

Plotly.newPlot('chart', traces, layout, {displayModeBar:false, staticPlot:true});
</script>
</body></html>
